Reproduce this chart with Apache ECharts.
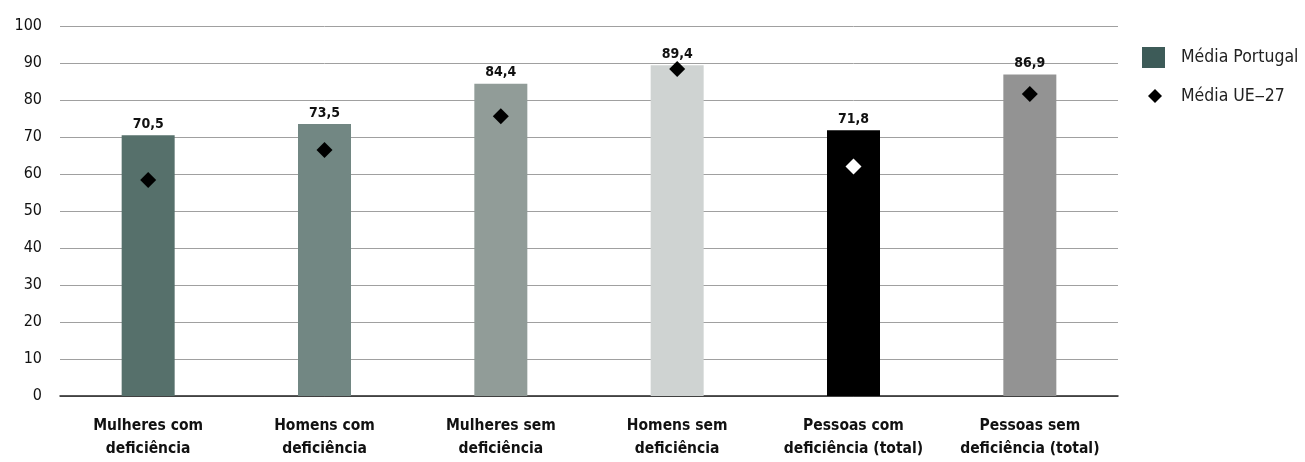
<!DOCTYPE html>
<html><head><meta charset="utf-8">
<script src="https://cdn.jsdelivr.net/npm/echarts@6/dist/echarts.min.js"></script>
<style>html,body{margin:0;padding:0;background:#fff}#c{width:1305px;height:462px}</style>
</head><body><div id="c"></div>
<script>
const categories = ['Mulheres com\ndeficiência','Homens com\ndeficiência','Mulheres sem\ndeficiência','Homens sem\ndeficiência','Pessoas com\ndeficiência (total)','Pessoas sem\ndeficiência (total)'];
const portugal = [70.5, 73.5, 84.4, 89.4, 71.8, 86.9];
const ue27 = [58.4, 66.5, 75.6, 88.4, 62.0, 81.6];
const barColors = ['#56706b','#728783','#919c98','#cfd3d2','#000000','#939393'];
const markerColors = ['#000','#000','#000','#000','#fff','#000'];
const yTicks = [0,10,20,30,40,50,60,70,80,90,100];

const FONT = '"Liberation Sans Narrow","DejaVu Sans Condensed","Roboto",sans-serif';
const chart = echarts.init(document.getElementById('c'));
chart.setOption({
  animation: false,
  textStyle: {fontFamily: FONT},
  grid: {left: 60, right: 187, top: 26, bottom: 66},
  legend: [
    {
      orient: 'vertical', left: 1142, top: 47, padding: 0, itemWidth: 23, itemHeight: 21,
      textStyle: {fontFamily: FONT, fontSize: 17.5, color: '#222', padding: [0,0,0,11]},
      data: [{name: 'Média Portugal', icon: 'rect'}]
    },
    {
      orient: 'vertical', left: 1148, top: 87, padding: 0, itemWidth: 14, itemHeight: 14,
      textStyle: {fontFamily: FONT, fontSize: 17.5, color: '#222', padding: [0,0,0,14]},
      data: [{name: 'Média UE‒27', icon: 'diamond'}]
    }
  ],
  xAxis: {
    type: 'category', data: categories,
    axisLine: {lineStyle: {color: '#222', width: 1.5}},
    axisTick: {show: false},
    axisLabel: {fontFamily: FONT, fontWeight: 'bold', fontSize: 15.5, color: '#111', lineHeight: 23, margin: 18, interval: 0}
  },
  yAxis: {
    type: 'value', min: 0, max: 100, interval: 10,
    axisLine: {show: false}, axisTick: {show: false},
    axisLabel: {fontFamily: FONT, fontSize: 16, color: '#111', margin: 18,
      formatter: v => yTicks.includes(v) ? String(v) : ''},
    splitLine: {lineStyle: {color: '#a0a0a0', width: 1}}
  },
  series: [
    {
      name: 'Média Portugal', type: 'bar', barWidth: 53,
      itemStyle: {color: '#3d5b58'},
      data: portugal.map((v, i) => ({value: v, itemStyle: {color: barColors[i]}})),
      label: {show: true, position: 'top', distance: 4, fontFamily: FONT, fontWeight: 'bold', fontSize: 14, color: '#111',
        formatter: p => p.value.toFixed(1).replace('.', ',')}
    },
    {
      name: 'Média UE‒27', type: 'scatter', symbol: 'diamond', symbolSize: 16,
      itemStyle: {color: '#000', opacity: 1},
      data: ue27.map((v, i) => ({value: v, itemStyle: {color: markerColors[i], opacity: 1}})),
      z: 5
    }
  ]
});
</script></body></html>
